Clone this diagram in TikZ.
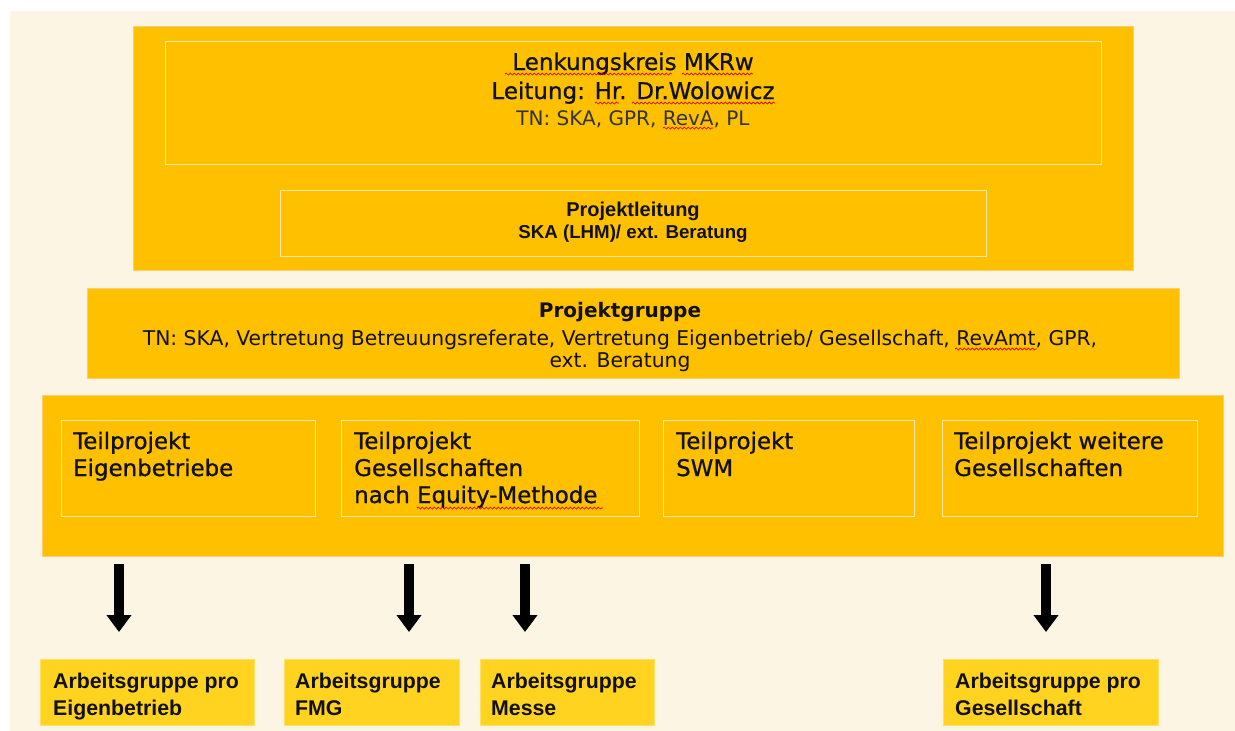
\documentclass[tikz,border=0pt]{standalone}
\usepackage{fontspec}
\setmainfont{DejaVu Sans}
\newfontfamily\arialfont{Liberation Sans}
\newfontfamily\dvsemi[FakeBold=0.8]{DejaVu Sans}
\usetikzlibrary{arrows.meta,decorations.pathmorphing}
\definecolor{bgcream}{HTML}{FDF5E4}
\definecolor{orangebox}{HTML}{FFC000}
\definecolor{yellowbox}{HTML}{FFD320}
\definecolor{innerline}{HTML}{FFE9A8}
\definecolor{outerline}{HTML}{F8D070}
\definecolor{txt}{HTML}{111111}
\tikzset{
  bigbox/.style={rectangle, fill=orangebox, draw=outerline, line width=0.8pt, inner sep=0pt, anchor=north west},
  innerbox/.style={rectangle, draw=innerline, line width=1.4pt, inner sep=0pt, anchor=north west},
  agbox/.style={rectangle, fill=yellowbox, draw=yellowbox!70!white, line width=0.6pt, inner sep=0pt, anchor=north west},
  ctxt/.style={inner sep=0pt, anchor=base, text=txt},
  ltxt/.style={inner sep=0pt, anchor=base west, text=txt},
  blockarrow/.style={line width=10pt, black, -{Triangle[width=24pt,length=17pt]}},
  squig/.style={red!85!black, line width=0.7pt, decorate, decoration={snake, amplitude=1pt, segment length=4pt}},
  tpfont/.style={font=\dvsemi\fontsize{22.9}{27}\selectfont},
  agfont/.style={font=\arialfont\bfseries\fontsize{21.3}{27}\selectfont},
}
\begin{document}
\begin{tikzpicture}[x=1pt,y=-1pt]
\useasboundingbox (0,0) rectangle (1235,731);
\fill[white] (0,0) rectangle (1235,731);
\fill[bgcream] (10,11) rectangle (1235,731);

% Lenkungskreis block
\node[bigbox, minimum width=1000pt, minimum height=244pt] (lk) at (133,26) {};
\node[innerbox, minimum width=936pt, minimum height=123pt] (lkin) at (165,41) {};
\node[innerbox, minimum width=706pt, minimum height=66pt] (plin) at (280,190) {};
\node[ctxt, font=\dvsemi\fontsize{23}{29}\selectfont] (lk1) at (633,70) {Lenkungskreis MKRw};
\node[ctxt, font=\dvsemi\fontsize{23}{29}\selectfont] (lk2) at (633,99) {Leitung: Hr. Dr.Wolowicz};
\node[ctxt, font=\fontsize{20}{24}\selectfont, text=black!80] (lk3) at (633,125) {TN: SKA, GPR, RevA, PL};
\node[ctxt, font=\arialfont\bfseries\fontsize{20}{22}\selectfont] (pl1) at (633,216) {Projektleitung};
\node[ctxt, font=\arialfont\bfseries\fontsize{18.7}{22}\selectfont] (pl2) at (633,238) {SKA (LHM)/ ext. Beratung};

% Projektgruppe
\node[bigbox, minimum width=1092pt, minimum height=90pt] (pg) at (87,288) {};
\node[ctxt, font=\bfseries\fontsize{20}{24}\selectfont] (pg1) at (620,317) {Projektgruppe};
\node[ctxt, font=\fontsize{20.3}{24}\selectfont] (pg2) at (620,345) {TN: SKA, Vertretung Betreuungsreferate, Vertretung Eigenbetrieb/ Gesellschaft, RevAmt, GPR,};
\node[ctxt, font=\fontsize{20.3}{24}\selectfont] (pg3) at (620,367) {ext. Beratung};

% Teilprojekte
\node[bigbox, minimum width=1181pt, minimum height=161pt] (tp) at (42,395) {};
\node[innerbox, minimum width=254pt, minimum height=96pt] (tp1) at (61,420) {};
\node[innerbox, minimum width=298pt, minimum height=96pt] (tp2) at (341,420) {};
\node[innerbox, minimum width=251pt, minimum height=96pt] (tp3) at (663,420) {};
\node[innerbox, minimum width=255pt, minimum height=96pt] (tp4) at (942,420) {};
\node[ltxt, tpfont] (tp1a) at (73,449) {Teilprojekt};
\node[ltxt, tpfont] (tp1b) at (73,476) {Eigenbetriebe};
\node[ltxt, tpfont] (tp2a) at (354,449) {Teilprojekt};
\node[ltxt, tpfont] (tp2b) at (354,476) {Gesellschaften};
\node[ltxt, tpfont] (tp2c) at (354,503) {nach Equity-Methode};
\node[ltxt, tpfont] (tp3a) at (676,449) {Teilprojekt};
\node[ltxt, tpfont] (tp3b) at (676,476) {SWM};
\node[ltxt, tpfont] (tp4a) at (954,449) {Teilprojekt weitere};
\node[ltxt, tpfont] (tp4b) at (954,476) {Gesellschaften};

% Arbeitsgruppen
\node[agbox, minimum width=214pt, minimum height=66pt] (ag1) at (40,659) {};
\node[agbox, minimum width=175pt, minimum height=66pt] (ag2) at (284,659) {};
\node[agbox, minimum width=174pt, minimum height=66pt] (ag3) at (480,659) {};
\node[agbox, minimum width=215pt, minimum height=66pt] (ag4) at (943,659) {};
\node[ltxt, agfont] (ag1a) at (53,688) {Arbeitsgruppe pro};
\node[ltxt, agfont] (ag1b) at (53,715) {Eigenbetrieb};
\node[ltxt, agfont] (ag2a) at (295,688) {Arbeitsgruppe};
\node[ltxt, agfont] (ag2b) at (295,715) {FMG};
\node[ltxt, agfont] (ag3a) at (491,688) {Arbeitsgruppe};
\node[ltxt, agfont] (ag3b) at (491,715) {Messe};
\node[ltxt, agfont] (ag4a) at (955,688) {Arbeitsgruppe pro};
\node[ltxt, agfont] (ag4b) at (955,715) {Gesellschaft};

% Arrows
\coordinate (a1s) at (119,564); \coordinate (a1e) at (119,632);
\coordinate (a2s) at (409,564); \coordinate (a2e) at (409,632);
\coordinate (a3s) at (525,564); \coordinate (a3e) at (525,632);
\coordinate (a4s) at (1046,564); \coordinate (a4e) at (1046,632);
\draw[blockarrow] (a1s) -- (a1e);
\draw[blockarrow] (a2s) -- (a2e);
\draw[blockarrow] (a3s) -- (a3e);
\draw[blockarrow] (a4s) -- (a4e);

% spell-check underlines
\draw[squig] (505,74) -- (672,74);
\draw[squig] (682,74) -- (753,74);
\draw[squig] (595,103) -- (619,103);
\draw[squig] (632,103) -- (775,103);
\draw[squig] (663,128) -- (713,128);
\draw[squig] (955,349) -- (1037,349);
\draw[squig] (417,508) -- (603,508);
\end{tikzpicture}
\end{document}
